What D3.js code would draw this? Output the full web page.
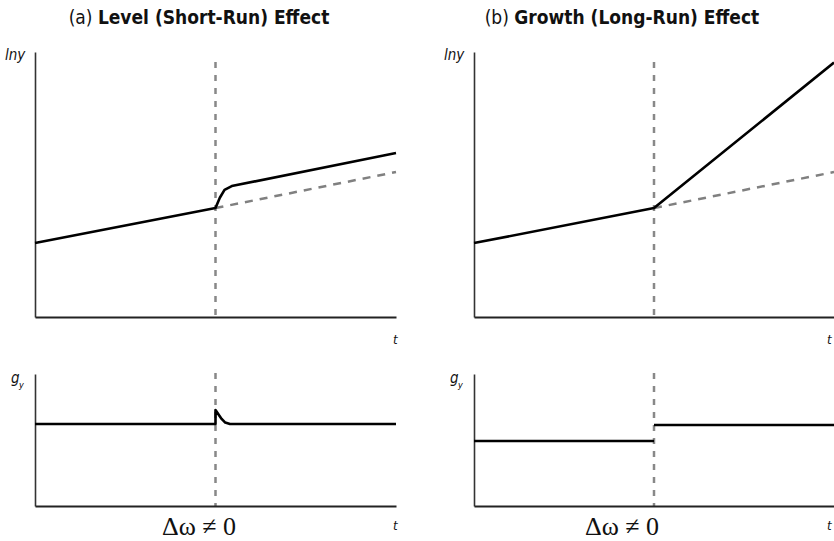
<!DOCTYPE html>
<html>
<head>
<meta charset="utf-8">
<script src="https://cdn.jsdelivr.net/npm/d3@7"></script>
<style>
  body { margin: 0; background: #fff; }
  svg { display: block; }
</style>
</head>
<body>
<div class="chart"></div>
<script>
  const width = 834;
  const height = 541;

  // time axis runs 0..10, shock at t = 5
  const shockT = 5;

  // panel (a) level effect
  const levelLnyT = [0, 5, 5.12, 5.25, 5.45, 10];
  const levelLnyV = [2.79, 4.11, 4.5, 4.8, 4.94, 6.19];
  const levelTrendT = [5, 10];
  const levelTrendV = [4.11, 5.47];
  const levelGyT = [0, 5, 5, 5.08, 5.17, 5.27, 5.4, 10];
  const levelGyV = [6.21, 6.21, 7.27, 6.95, 6.6, 6.32, 6.21, 6.21];

  // panel (b) growth effect
  const growthLnyT = [0, 5, 10];
  const growthLnyV = [2.79, 4.11, 9.6];
  const growthTrendT = [5, 10];
  const growthTrendV = [4.11, 5.47];
  const growthGyBeforeT = [0, 5];
  const growthGyBeforeV = [4.92, 4.92];
  const growthGyAfterT = [5, 10];
  const growthGyAfterV = [6.14, 6.14];

  const zip = (ts, vs) => ts.map((t, i) => ({ t: t, v: vs[i] }));

  const panels = [
    {
      title: '(a) ', titleBold: 'Level (Short-Run) Effect', titleX: 199,
      x0: 35, x1: 396, labelX: 5, deltaX: 199,
      lny: [zip(levelLnyT, levelLnyV)],
      trend: zip(levelTrendT, levelTrendV),
      gy: [zip(levelGyT, levelGyV)]
    },
    {
      title: '(b) ', titleBold: 'Growth (Long-Run) Effect', titleX: 622,
      x0: 474, x1: 834, labelX: 444, deltaX: 622,
      lny: [zip(growthLnyT, growthLnyV)],
      trend: zip(growthTrendT, growthTrendV),
      gy: [zip(growthGyBeforeT, growthGyBeforeV), zip(growthGyAfterT, growthGyAfterV)]
    }
  ];

  const topY = d3.scaleLinear().domain([0, 10]).range([317, 52]);
  const botY = d3.scaleLinear().domain([0, 10]).range([506, 374]);

  const svg = d3.select('.chart').append('svg')
    .attr('width', width)
    .attr('height', height);

  panels.forEach(p => {
    const x = d3.scaleLinear().domain([0, 10]).range([p.x0, p.x1]);
    const g = svg.append('g');

    // title
    const title = g.append('text')
      .attr('x', p.titleX)
      .attr('y', 24)
      .attr('text-anchor', 'middle')
      .style('font-family', '"DejaVu Sans Condensed", "DejaVu Sans", sans-serif')
      .style('font-stretch', 'condensed')
      .style('font-size', '19px')
      .attr('fill', '#111');
    title.append('tspan').text(p.title);
    title.append('tspan').attr('font-weight', 'bold').text(p.titleBold);

    // dashed shock lines
    g.append('line')
      .attr('x1', x(shockT)).attr('x2', x(shockT))
      .attr('y1', 62).attr('y2', topY(0))
      .attr('stroke', '#888').attr('stroke-width', 2.5)
      .attr('stroke-dasharray', '6,7');
    g.append('line')
      .attr('x1', x(shockT)).attr('x2', x(shockT))
      .attr('y1', 373).attr('y2', botY(0))
      .attr('stroke', '#888').attr('stroke-width', 2.5)
      .attr('stroke-dasharray', '6,7');

    // axes
    const noTicks = a => a.ticks(0).tickSize(0).tickSizeOuter(0);
    [[topY, 317], [botY, 506]].forEach(([y, base]) => {
      g.append('g')
        .attr('transform', `translate(${p.x0},0)`)
        .call(noTicks(d3.axisLeft(y)))
        .call(s => s.select('.domain').attr('stroke', '#333').attr('stroke-width', 1.6));
      g.append('g')
        .attr('transform', `translate(0,${base})`)
        .call(noTicks(d3.axisBottom(x)))
        .call(s => s.select('.domain').attr('stroke', '#222').attr('stroke-width', 2));
    });

    const lineTop = d3.line().x(d => x(d.t)).y(d => topY(d.v));
    const lineBot = d3.line().x(d => x(d.t)).y(d => botY(d.v));

    g.append('path')
      .attr('d', lineTop(p.trend))
      .attr('fill', 'none')
      .attr('stroke', '#808080').attr('stroke-width', 2.5)
      .attr('stroke-dasharray', '8,7');

    p.lny.forEach(s => {
      g.append('path')
        .attr('d', lineTop(s))
        .attr('fill', 'none')
        .attr('stroke', '#000').attr('stroke-width', 2.6)
        .attr('stroke-linejoin', 'round');
    });
    p.gy.forEach(s => {
      g.append('path')
        .attr('d', lineBot(s))
        .attr('fill', 'none')
        .attr('stroke', '#000').attr('stroke-width', 2.6)
        .attr('stroke-linejoin', 'round');
    });

    // labels
    const italic = (tx, ty, txt, size) => g.append('text')
      .attr('x', tx).attr('y', ty)
      .style('font-family', '"DejaVu Sans Condensed", sans-serif')
      .style('font-stretch', 'condensed')
      .style('font-style', 'italic')
      .style('font-size', size + 'px')
      .attr('fill', '#111')
      .text(txt);

    italic(p.labelX, 60, 'lny', 15);
    italic(Math.min(p.x1 - 3, width - 7), 344, 't', 13);
    italic(Math.min(p.x1 - 3, width - 7), 530, 't', 13);
    italic(p.labelX + 6, 383, 'g', 15);
    g.append('text')
      .attr('x', p.labelX + 14).attr('y', 388)
      .style('font-family', '"DejaVu Sans Condensed", sans-serif')
      .style('font-stretch', 'condensed')
      .style('font-style', 'italic')
      .style('font-size', '9px')
      .text('y');

    g.append('text')
      .attr('x', p.deltaX).attr('y', 535)
      .attr('text-anchor', 'middle')
      .style('font-family', '"Liberation Serif", serif')
      .style('font-size', '26px')
      .attr('fill', '#111')
      .text('Δω ≠ 0');
  });
</script>
</body>
</html>
